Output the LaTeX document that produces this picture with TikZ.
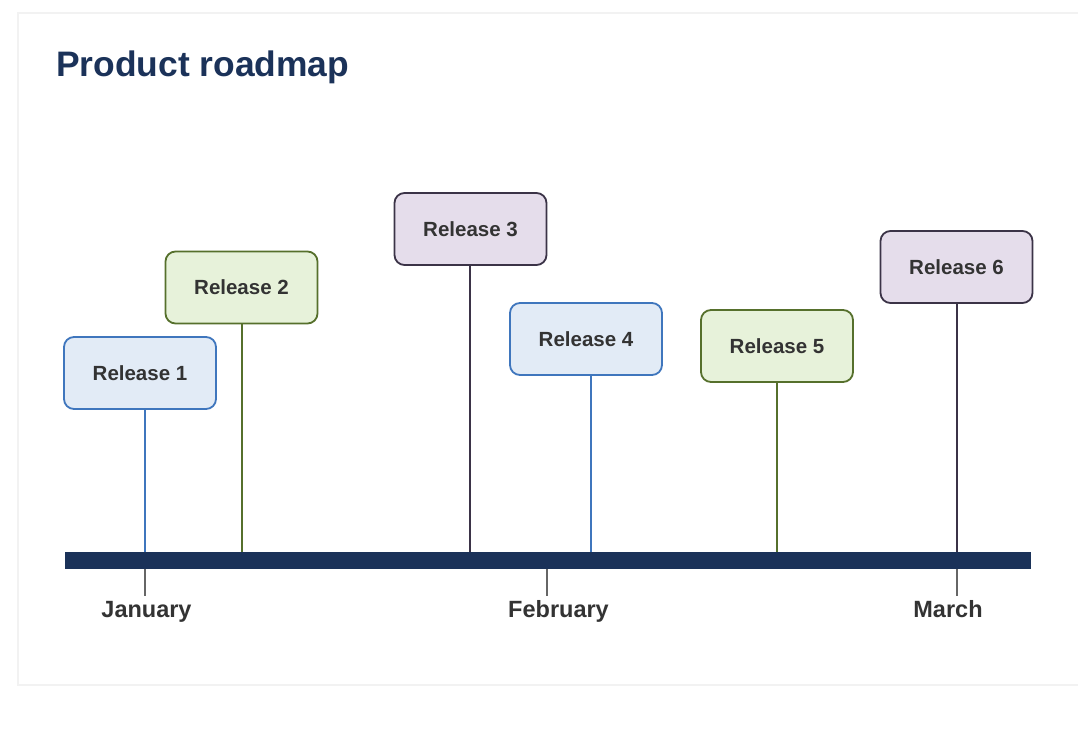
\documentclass[tikz,border=0pt]{standalone}
\usepackage{fontspec}
\setmainfont{Liberation Sans}
\usetikzlibrary{positioning}
\definecolor{navy}{HTML}{1B3259}
\definecolor{labeltext}{HTML}{333333}
\definecolor{blueline}{HTML}{3F76BD}
\definecolor{bluefill}{HTML}{E2EBF6}
\definecolor{greenline}{HTML}{56702C}
\definecolor{greenfill}{HTML}{E7F2DA}
\definecolor{purpleline}{HTML}{3B3347}
\definecolor{purplefill}{HTML}{E5DDEB}
\definecolor{cardline}{HTML}{F2F2F2}
\definecolor{tickgray}{HTML}{666666}
\tikzset{
  release/.style={draw, rounded corners=10pt, line width=1.8pt,
    minimum width=152pt, minimum height=72pt, inner sep=0pt,
    font=\fontsize{20.5}{24}\selectfont\bfseries, text=labeltext},
  relblue/.style={release, draw=blueline, fill=bluefill},
  relgreen/.style={release, draw=greenline, fill=greenfill},
  relpurple/.style={release, draw=purpleline, fill=purplefill},
  stem/.style={line width=1.6pt},
  month/.style={anchor=base, inner sep=0pt, text=labeltext,
    font=\fontsize{23.5}{28}\selectfont\bfseries},
  monthtick/.style={draw=tickgray, line width=1.6pt}}

\begin{document}
\begin{tikzpicture}[x=1pt,y=-1pt]
\useasboundingbox (0,0) rectangle (1078,733);
\fill [white] (0,0) rectangle (1078,733);
\draw [cardline, line width=1.2pt] (1078,13) -- (18,13) -- (18,685) -- (1078,685);
\node [anchor=base west, inner sep=0pt, text=navy, font=\fontsize{35.4}{40}\selectfont\bfseries] (title) at (56,77) {Product roadmap};
\node [fill=navy, minimum width=966pt, minimum height=17pt, inner sep=0pt] (axis) at (548,560.5) {};
\node [relblue] (r1) at (140,373) {Release 1};
\node [relgreen] (r2) at (241.5,287.5) {Release 2};
\node [relpurple] (r3) at (470.5,229) {Release 3};
\node [relblue] (r4) at (586,339) {Release 4};
\node [relgreen] (r5) at (777,346) {Release 5};
\node [relpurple] (r6) at (956.5,267) {Release 6};
\coordinate (p1) at (145,552);
\coordinate (p2) at (242,552);
\coordinate (p3) at (470,552);
\coordinate (p4) at (591,552);
\coordinate (p5) at (777,552);
\coordinate (p6) at (957,552);
\draw [stem, blueline] (r1.south -| p1) -- (p1);
\draw [stem, greenline] (r2.south -| p2) -- (p2);
\draw [stem, purpleline] (r3.south -| p3) -- (p3);
\draw [stem, blueline] (r4.south -| p4) -- (p4);
\draw [stem, greenline] (r5.south -| p5) -- (p5);
\draw [stem, purpleline] (r6.south -| p6) -- (p6);
\coordinate (t1) at (145,596);
\coordinate (t2) at (547,596);
\coordinate (t3) at (957,596);
\draw [monthtick] (axis.south -| t1) -- (t1);
\draw [monthtick] (axis.south -| t2) -- (t2);
\draw [monthtick] (axis.south -| t3) -- (t3);
\node [month] (jan) at (146.5,617) {January};
\node [month] (feb) at (558.5,617) {February};
\node [month] (mar) at (948,617) {March};
\end{tikzpicture}
\end{document}
